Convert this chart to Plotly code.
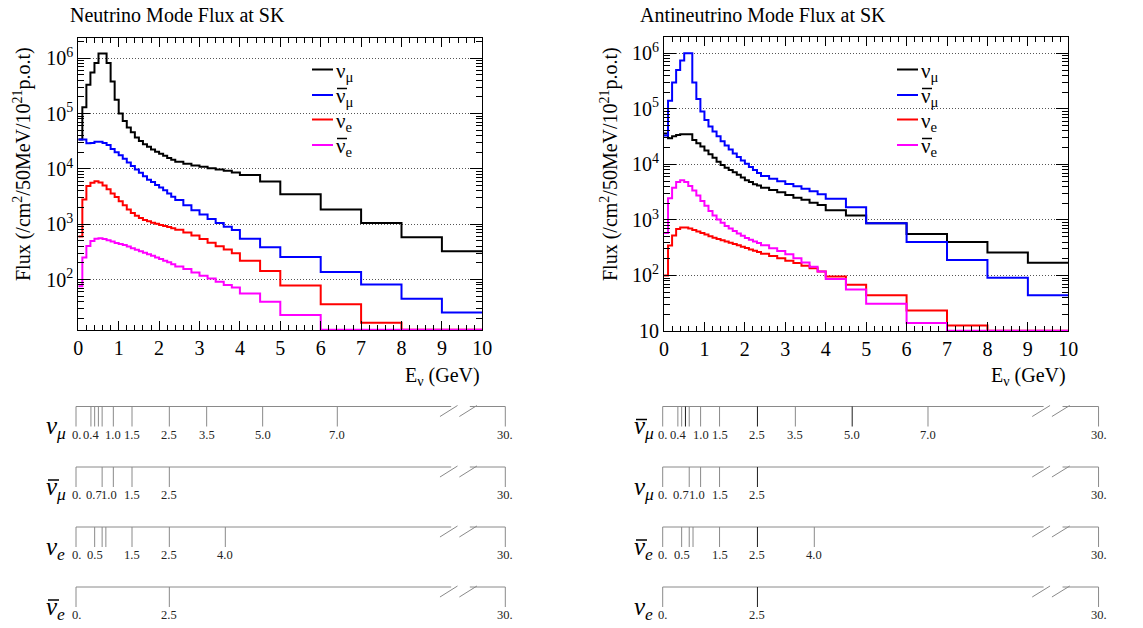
import plotly.graph_objects as go

# Positions below are given in window pixels; the page margin is removed after
# the plot is drawn so the figure fills the 1143x628 window exactly.
OFFSET = 0
W, H = 1143 - OFFSET, 628 - OFFSET
SERIF = "Liberation Serif"

# ---------------- Flux histograms (per 50 MeV per 1e21 POT) ----------------
EDGES = [0.0, 0.1, 0.2, 0.3, 0.4, 0.5, 0.6, 0.7, 0.8, 0.9, 1.0, 1.1, 1.2, 1.3, 1.4,
         1.5, 1.6, 1.7, 1.8, 1.9, 2.0, 2.1, 2.2, 2.3, 2.4, 2.6, 2.8, 3.0, 3.2, 3.4,
         3.6, 3.8, 4.0, 4.5, 5.0, 6.0, 7.0, 8.0, 9.0, 10.0]

# Neutrino mode
NU_NUMU = [3.4e4, 1.3e5, 3.3e5, 5.5e5, 8.2e5, 1.22e6, 1.22e6, 8.2e5, 3.8e5, 1.78e5,
           1.0e5, 7.3e4, 5.6e4, 4.6e4, 3.7e4, 3.2e4, 2.8e4, 2.5e4, 2.25e4, 2.05e4,
           1.88e4, 1.72e4, 1.58e4, 1.47e4,
           1.34e4, 1.24e4, 1.15e4, 1.09e4, 1.03e4, 9.8e3, 9.3e3, 8.6e3,
           7.8e3, 5.9e3, 3.5e3, 1.85e3, 1.05e3, 580, 325]
NU_NUMUBAR = [3.4e4, 3.4e4, 2.9e4, 2.95e4, 3.1e4, 3.1e4, 2.95e4, 2.7e4, 2.3e4, 2.0e4,
              1.77e4, 1.53e4, 1.3e4, 1.13e4, 9.8e3, 8.5e3, 7.4e3, 6.4e3, 5.8e3, 5.1e3,
              4.6e3, 4.1e3, 3.6e3, 3.15e3,
              2.75e3, 2.2e3, 1.8e3, 1.5e3, 1.25e3, 1.05e3, 900, 790,
              545, 385, 255, 137, 82, 45, 25.6]
NU_NUE = [600, 2.8e3, 4.9e3, 5.6e3, 6.0e3, 5.7e3, 5.0e3, 4.3e3, 3.6e3, 3.1e3,
          2.6e3, 2.2e3, 1.85e3, 1.6e3, 1.42e3, 1.3e3, 1.2e3, 1.13e3, 1.07e3, 1.02e3,
          970, 930, 890, 850,
          800, 710, 625, 540, 465, 400, 350, 300,
          220, 143, 78, 36, 16.6, 0, 0]
NU_NUEBAR = [76, 250, 405, 500, 545, 560, 540, 514, 487, 460,
             440, 420, 395, 370, 345, 325, 305, 288, 270, 252,
             235, 220, 205, 190,
             173, 155, 135, 117, 105, 92, 80, 72,
             56, 40, 23, 0, 0, 0, 0]

# Antineutrino mode
ANU_NUMU = [3.6e4, 2.96e4, 3.2e4, 3.4e4, 3.5e4, 3.5e4, 3.5e4, 2.75e4, 2.4e4, 2.1e4,
            1.78e4, 1.52e4, 1.32e4, 1.12e4, 9.8e3, 8.7e3, 7.9e3, 7.2e3, 6.5e3, 5.8e3,
            5.2e3, 4.8e3, 4.4e3, 4.15e3,
            3.8e3, 3.45e3, 3.15e3, 2.8e3, 2.5e3, 2.3e3, 2.05e3, 1.85e3,
            1.5e3, 1.2e3, 870, 560, 400, 260, 170]
ANU_NUMUBAR = [3.3e4, 1.4e5, 3.0e5, 5.0e5, 7.4e5, 1.0e6, 1.0e6, 3.0e5, 1.5e5, 9.0e4,
               6.3e4, 4.8e4, 3.9e4, 3.2e4, 2.6e4, 2.2e4, 1.85e4, 1.58e4, 1.36e4, 1.18e4,
               1.03e4, 9.0e3, 7.9e3, 7.0e3,
               6.2e3, 5.5e3, 4.95e3, 4.45e3, 4.05e3, 3.65e3, 3.3e3, 2.9e3,
               2.4e3, 1.69e3, 870, 400, 190, 91, 44]
ANU_NUE = [100, 345, 525, 690, 730, 730, 700, 660, 620, 580,
           545, 510, 480, 455, 430, 410, 390, 370, 350, 330,
           312, 295, 280, 265,
           245, 225, 205, 185, 168, 150, 135, 118,
           96, 68, 44, 23.4, 12.6, 0, 0]
ANU_NUEBAR = [580, 2.45e3, 3.8e3, 4.8e3, 5.2e3, 4.8e3, 4.1e3, 3.4e3, 2.75e3, 2.2e3,
              1.8e3, 1.45e3, 1.2e3, 1.02e3, 890, 780, 700, 630, 570, 520,
              475, 440, 410, 385,
              350, 310, 275, 240, 205, 172, 143, 118,
              86, 56, 31, 13.9, 0, 0, 0]

# legend entries: (base symbol, subscript, has bar)
FLAVOURS = [("ν", "μ", False), ("ν", "μ", True), ("ν", "e", False), ("ν", "e", True)]
FLAVOUR_COLORS = ["#000000", "#0000ff", "#ff0000", "#ff00ff"]

LEFT_YTICKS = [1e2, 1e3, 1e4, 1e5, 1e6]
LEFT_YTEXT = ["10<sup>2</sup>", "10<sup>3</sup>", "10<sup>4</sup>", "10<sup>5</sup>", "10<sup>6</sup>"]
RIGHT_YTICKS = [1e1, 1e2, 1e3, 1e4, 1e5, 1e6]
RIGHT_YTEXT = ["10", "10<sup>2</sup>", "10<sup>3</sup>", "10<sup>4</sup>", "10<sup>5</sup>", "10<sup>6</sup>"]

# ---------------- Systematic binning diagrams ----------------
NUMU_BINS = [0.0, 0.4, 0.5, 0.6, 0.7, 1.0, 1.5, 2.5, 3.5, 5.0, 7.0, 30.0]
NUMU_LABELLED = [0.0, 0.4, 1.0, 1.5, 2.5, 3.5, 5.0, 7.0, 30.0]
NUMUBAR_BINS = [0.0, 0.7, 1.0, 1.5, 2.5, 30.0]
NUMUBAR_LABELLED = [0.0, 0.7, 1.0, 1.5, 2.5, 30.0]
NUE_BINS = [0.0, 0.5, 0.7, 0.8, 1.5, 2.5, 4.0, 30.0]
NUE_LABELLED = [0.0, 0.5, 1.5, 2.5, 4.0, 30.0]
NUEBAR_BINS = [0.0, 2.5, 30.0]
NUEBAR_LABELLED = [0.0, 2.5, 30.0]

LEFT_ROWS = [("μ", False), ("μ", True), ("e", False), ("e", True)]
RIGHT_ROWS = [("μ", True), ("μ", False), ("e", True), ("e", False)]
ROW_BINS = [(NUMU_BINS, NUMU_LABELLED), (NUMUBAR_BINS, NUMUBAR_LABELLED),
            (NUE_BINS, NUE_LABELLED), (NUEBAR_BINS, NUEBAR_LABELLED)]


def px(x):
    return (x - OFFSET) / W


def py(y):
    return 1 - (y - OFFSET) / H


fig = go.Figure()
shapes = []
annotations = []

# ---------- flux panels ----------
LEFT_YR = [1.09, 6.37]
RIGHT_YR = [1.0, 6.30]


def add_flux(series, xa, ya, ymin_log):
    floor = 10 ** (ymin_log + 0.006)
    for vals, fl, col in zip(series, FLAVOURS, FLAVOUR_COLORS):
        ys = [max(v, floor) for v in vals] + [max(vals[-1], floor)]
        name = ("ν̄" if fl[2] else "ν") + "<sub>" + fl[1] + "</sub>"
        fig.add_trace(go.Scatter(
            x=EDGES, y=ys, mode="lines", name=name, showlegend=False,
            line=dict(shape="hv", color=col, width=2),
            xaxis=xa, yaxis=ya, hoverinfo="skip"))


add_flux([NU_NUMU, NU_NUMUBAR, NU_NUE, NU_NUEBAR], "x", "y", LEFT_YR[0])
add_flux([ANU_NUMU, ANU_NUMUBAR, ANU_NUE, ANU_NUEBAR], "x2", "y2", RIGHT_YR[0])

# ---------- legends (ROOT TLegend look) ----------
LEG_Y = [69.5, 95.0, 119.5, 145.0]


def add_legend(x_box0, x_box1, x_line0, x_line1, x_text):
    shapes.append(dict(type="rect", xref="paper", yref="paper", layer="between",
                       x0=px(x_box0), x1=px(x_box1), y0=py(163), y1=py(46),
                       fillcolor="white", line=dict(width=0)))
    for (sym, sub, bar), col, ly in zip(FLAVOURS, FLAVOUR_COLORS, LEG_Y):
        shapes.append(dict(type="line", xref="paper", yref="paper",
                           x0=px(x_line0), x1=px(x_line1), y0=py(ly), y1=py(ly),
                           line=dict(color=col, width=2)))
        annotations.append(dict(x=px(x_text), y=py(ly + 2), xref="paper", yref="paper",
                                showarrow=False, xanchor="left", yanchor="middle",
                                text=sym + "<sub>" + sub + "</sub>",
                                font=dict(family=SERIF, size=21, color="black")))
        if bar:
            shapes.append(dict(type="line", xref="paper", yref="paper",
                               x0=px(x_text + 3), x1=px(x_text + 13),
                               y0=py(ly - 6.5), y1=py(ly - 6.5),
                               line=dict(color="black", width=1.5)))


add_legend(305, 431, 312, 333, 334)
add_legend(891, 1018, 897, 918, 919)

# ---------- binning diagrams ----------
ROW_Y = [406.5, 467.0, 527.0, 587.0]
TICK_LEN = 20
BREAK_POS = 11.5  # display position of the 30 GeV edge after the axis break
GRAY = "#8a8a8a"
DARK = "#1e1e1e"
# label nudges (px) where neighbouring labels collide
LABEL_NUDGE = {(1, 0.7): -8.5, (1, 1.0): -4}


def bx(v):
    return v if v <= 10 else BREAK_POS


def fmt(v):
    if v == 0:
        return "0."
    if v >= 10:
        return "%d." % v
    return "%.1f" % v


def add_diagram(xa, ya, rows, label_x, dark_edges):
    for i, ((bins, labelled), ry, (sub, bar)) in enumerate(zip(ROW_BINS, ROW_Y, rows)):
        fig.add_trace(go.Scatter(
            x=[0, 10.05, None, 10.55, bx(bins[-1])], y=[ry, ry, None, ry, ry],
            mode="lines", line=dict(color=GRAY, width=1), xaxis=xa, yaxis=ya,
            showlegend=False, hoverinfo="skip"))
        fig.add_trace(go.Scatter(
            x=[9.75, 10.22, None, 10.27, 10.74], y=[ry + 10, ry - 1, None, ry + 10, ry - 1],
            mode="lines", line=dict(color=GRAY, width=1), xaxis=xa, yaxis=ya,
            showlegend=False, hoverinfo="skip"))
        for shade, keep in ((GRAY, False), (DARK, True)):
            tx, ty = [], []
            for e in bins:
                if (e in dark_edges) == keep:
                    tx += [bx(e), bx(e), None]
                    ty += [ry, ry + TICK_LEN, None]
            if tx:
                fig.add_trace(go.Scatter(
                    x=tx, y=ty, mode="lines", line=dict(color=shade, width=1),
                    xaxis=xa, yaxis=ya, showlegend=False, hoverinfo="skip"))
        for v in labelled:
            annotations.append(dict(x=bx(v), y=ry + 28, xref=xa, yref=ya, showarrow=False,
                                    xanchor="center", yanchor="middle", text=fmt(v),
                                    xshift=LABEL_NUDGE.get((i, v), 0),
                                    font=dict(family=SERIF, size=12.5, color="#222222")))
        annotations.append(dict(x=px(label_x), y=py(ry + 21), xref="paper", yref="paper",
                                text="<i>ν</i><sub><i>" + sub + "</i></sub>", showarrow=False,
                                xanchor="left", yanchor="middle",
                                font=dict(family=SERIF, size=25, color="black")))
        if bar:
            shapes.append(dict(type="line", xref="paper", yref="paper",
                               x0=px(label_x + 4), x1=px(label_x + 15),
                               y0=py(ry + 13), y1=py(ry + 13),
                               line=dict(color="black", width=1.5)))


add_diagram("x3", "y3", LEFT_ROWS, 44, set())
add_diagram("x4", "y4", RIGHT_ROWS, 632, {0.6, 2.5, 5.0})

# ---------- axes ----------
tickfont = dict(family=SERIF, size=20, color="black")


def xaxis_main(d0, d1, anchor):
    return dict(domain=[px(d0), px(d1)], range=[0, 10], anchor=anchor, automargin=False,
                tickmode="linear", tick0=0, dtick=1, ticks="inside", ticklen=9,
                tickcolor="black", tickwidth=1,
                minor=dict(ticks="inside", dtick=0.2, ticklen=5, tickcolor="black"),
                showline=True, linecolor="black", linewidth=1, mirror="ticks",
                showgrid=False, zeroline=False, tickfont=tickfont)


def yaxis_main(top, bot, rng, tv, tt, anchor):
    return dict(domain=[py(bot), py(top)], type="log", range=rng, anchor=anchor,
                automargin=False,
                tickmode="array", tickvals=tv, ticktext=tt, ticks="inside",
                ticklen=12, tickcolor="black", tickwidth=1,
                minor=dict(ticks="inside", ticklen=6, tickcolor="black", dtick="D1",
                           showgrid=False),
                showline=True, linecolor="black", linewidth=1, mirror="ticks",
                showgrid=True, griddash="1px,2px", gridcolor="#555555", gridwidth=1,
                zeroline=False, tickfont=tickfont)


hidden = dict(visible=False, showgrid=False, zeroline=False, automargin=False)

# ---------- titles ----------
ann_font = dict(family=SERIF, size=20, color="black")
annotations.append(dict(x=px(68), y=py(14.5), xref="paper", yref="paper", showarrow=False,
                        xanchor="left", yanchor="middle", text="Neutrino Mode Flux at SK",
                        font=ann_font))
annotations.append(dict(x=px(638), y=py(14.5), xref="paper", yref="paper", showarrow=False,
                        xanchor="left", yanchor="middle", text="Antineutrino Mode Flux at SK",
                        font=ann_font))
ytitle = "Flux (/cm<sup>2</sup>/50MeV/10<sup>21</sup>p.o.t)"
for xc in (23, 610):
    annotations.append(dict(x=px(xc), y=py(164), xref="paper", yref="paper", showarrow=False,
                            xanchor="center", yanchor="middle", textangle=-90, text=ytitle,
                            font=ann_font))
for xr in (482, 1068):
    annotations.append(dict(x=px(xr), y=py(376), xref="paper", yref="paper", showarrow=False,
                            xanchor="right", yanchor="middle", text="E<sub>ν</sub> (GeV)",
                            font=ann_font))

BOTTOM_PX = 628
fig.update_layout(
    width=W, height=H, margin=dict(l=0, r=0, t=0, b=0, autoexpand=False),
    paper_bgcolor="white", plot_bgcolor="rgba(0,0,0,0)",
    hovermode=False, showlegend=False,
    xaxis=xaxis_main(78.3, 482.3, "y"),
    yaxis=yaxis_main(37.7, 330, LEFT_YR, LEFT_YTICKS, LEFT_YTEXT, "x"),
    xaxis2=xaxis_main(664, 1068.3, "y2"),
    yaxis2=yaxis_main(36.7, 331, RIGHT_YR, RIGHT_YTICKS, RIGHT_YTEXT, "x2"),
    xaxis3=dict(domain=[px(72.27), px(509.03)], range=[-0.1, 11.6], anchor="y3", **hidden),
    yaxis3=dict(domain=[0, py(390)], range=[BOTTOM_PX, 390], anchor="x3", **hidden),
    xaxis4=dict(domain=[px(658.91), px(1102.34)], range=[-0.1, 11.6], anchor="y4", **hidden),
    yaxis4=dict(domain=[0, py(390)], range=[BOTTOM_PX, 390], anchor="x4", **hidden),
    shapes=shapes, annotations=annotations,
)

fig.write_html("out.html", config={"displayModeBar": False},
               post_script="document.body.style.margin='0';document.body.style.overflow='hidden';")
